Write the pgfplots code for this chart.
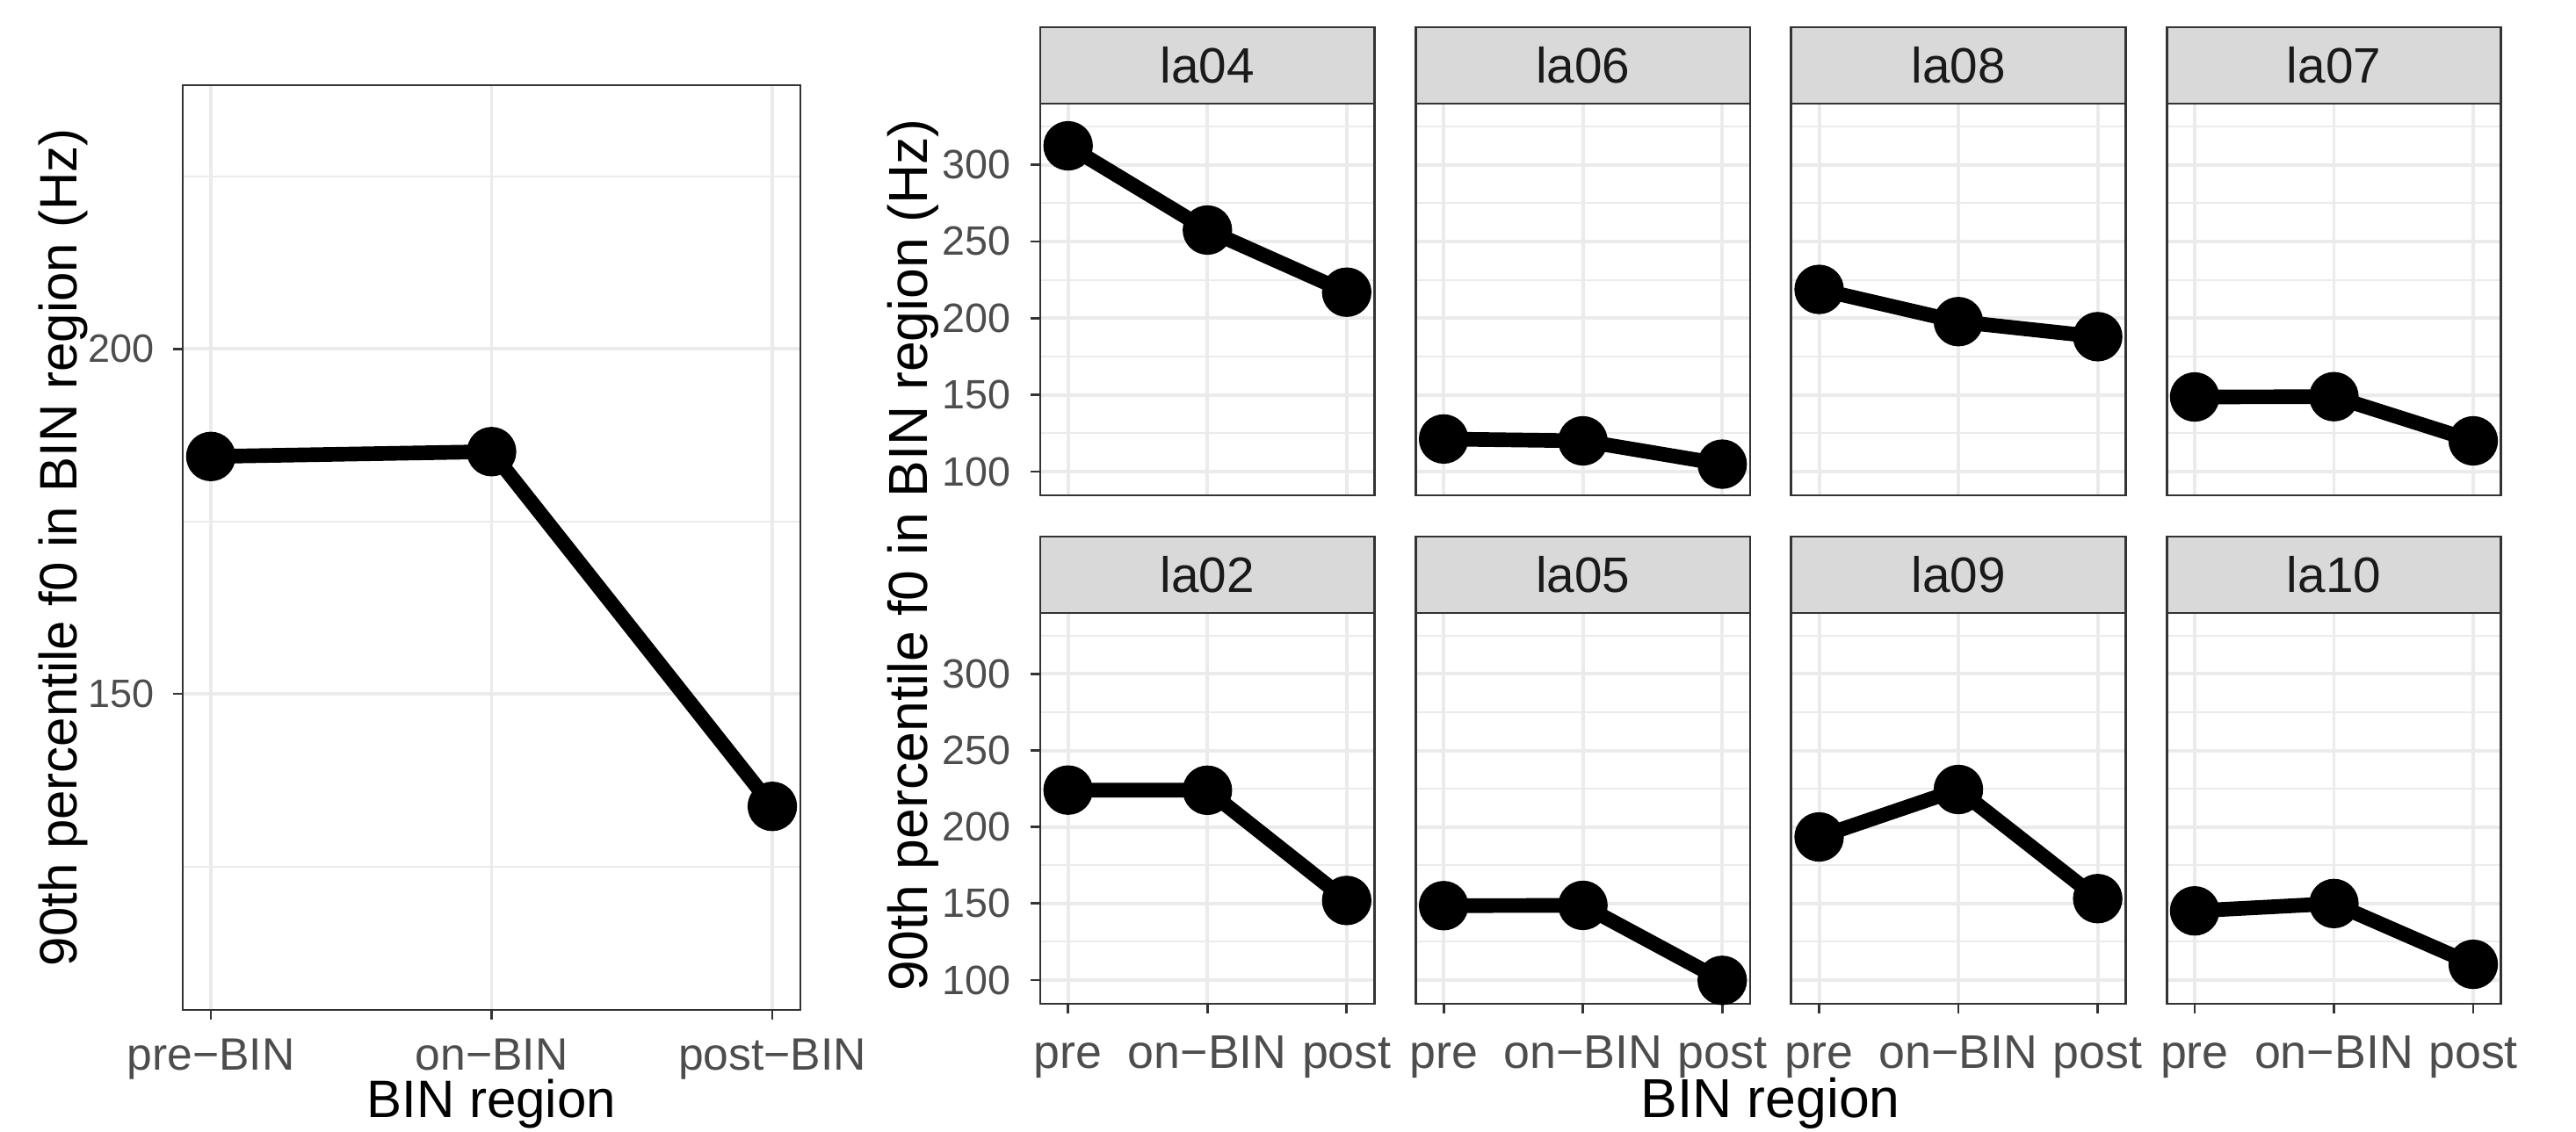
\documentclass[border=0pt]{standalone}
\usepackage{fontspec}
\setmainfont{Liberation Sans}
\usepackage{pgfplots}
\pgfplotsset{compat=1.18}

\definecolor{gridgray}{HTML}{EBEBEB}
\definecolor{framegray}{HTML}{333333}
\definecolor{tickgray}{HTML}{4D4D4D}
\definecolor{stripgray}{HTML}{D9D9D9}
\definecolor{striptext}{HTML}{1A1A1A}

% 1 px of the 2932x1288 reference = 0.24pt
\pgfplotsset{
  ggbase/.style={
    scale only axis, clip=false,
    anchor=south west,
    axis line style={framegray, line width=0.65pt},
    tick align=outside, tick pos=left,
    major tick length=2.64pt, minor tick length=0pt,
    every tick/.append style={framegray, line width=0.65pt},
    grid=both,
    major grid style={gridgray, line width=0.95pt},
    minor grid style={gridgray, line width=0.5pt},
    xtick={1,2,3},
    /pgf/number format/assume math mode=true,
    ticklabel style={text=tickgray},
    yticklabel style={anchor=east, inner sep=0pt},
    xticklabel style={anchor=base, inner sep=0pt},
  },
  ggline/.style={black, line width=4pt, mark=*, mark size=4.75pt,
    mark options={draw=none, fill=black}},
  facet/.style={
    ggbase,
    width=91.32pt,
    xmin=0.8, xmax=3.2, ymin=84.5, ymax=339.8,
    ytick={100,150,...,300}, minor ytick={125,175,...,325},
    xticklabels={pre,on−BIN,post},
    xticklabel style={font=\fontsize{12.9}{15}\selectfont, yshift=-14.9pt},
    yticklabel style={font=\fontsize{11.2}{13}\selectfont, xshift=-5.2pt},
  },
  toprow/.style={facet, height=107.04pt, xmajorticks=false, xticklabels={}},
  botrow/.style={facet, height=106.8pt},
  noy/.style={ymajorticks=false, yticklabels={}},
}

\newcommand{\facetstrip}[1]{%
  \draw[fill=stripgray, draw=framegray, line width=0.65pt]
    (rel axis cs:0,1) rectangle ([yshift=20.88pt]rel axis cs:1,1);
  \node[font=\fontsize{13.6}{16}\selectfont, text=striptext]
    at ([yshift=10.44pt]rel axis cs:0.5,1) {#1};
}

\begin{document}
\begin{tikzpicture}
\path[use as bounding box] (0pt,0pt) rectangle (703.68pt,309.12pt);

% pooled panel
\begin{axis}[ggbase,
  at={(49.92pt,33.12pt)}, width=168.72pt, height=252.72pt,
  xmin=0.9, xmax=3.1, ymin=104.2, ymax=238.2,
  ytick={150,200}, minor ytick={125,175,225},
  xticklabels={pre−BIN,on−BIN,post−BIN},
  xticklabel style={font=\fontsize{12.4}{14}\selectfont, yshift=-13.9pt},
  yticklabel style={font=\fontsize{10.8}{13}\selectfont, xshift=-5pt}]
\addplot[ggline] coordinates {(1,184.4) (2,185.1) (3,133.7)};
\end{axis}

% top row of speakers
\begin{axis}[toprow, at={(284.16pt,173.76pt)}]
\addplot[ggline] coordinates {(1,312.3) (2,257.4) (3,216.9)};
\facetstrip{la04}
\end{axis}
\begin{axis}[toprow, noy, at={(386.74pt,173.76pt)}]
\addplot[ggline] coordinates {(1,121.2) (2,120.0) (3,104.8)};
\facetstrip{la06}
\end{axis}
\begin{axis}[toprow, noy, at={(489.31pt,173.76pt)}]
\addplot[ggline] coordinates {(1,218.7) (2,197.7) (3,187.9)};
\facetstrip{la08}
\end{axis}
\begin{axis}[toprow, noy, at={(591.89pt,173.76pt)}]
\addplot[ggline] coordinates {(1,148.6) (2,148.8) (3,120.0)};
\facetstrip{la07}
\end{axis}

% bottom row of speakers
\begin{axis}[botrow, at={(284.16pt,34.8pt)}]
\addplot[ggline] coordinates {(1,224.1) (2,224.0) (3,152.0)};
\facetstrip{la02}
\end{axis}
\begin{axis}[botrow, noy, at={(386.74pt,34.8pt)}]
\addplot[ggline] coordinates {(1,148.6) (2,148.8) (3,99.8)};
\facetstrip{la05}
\end{axis}
\begin{axis}[botrow, noy, at={(489.31pt,34.8pt)}]
\addplot[ggline] coordinates {(1,193.5) (2,224.5) (3,153.2)};
\facetstrip{la09}
\end{axis}
\begin{axis}[botrow, noy, at={(591.89pt,34.8pt)}]
\addplot[ggline] coordinates {(1,145.2) (2,150.0) (3,110.3)};
\facetstrip{la10}
\end{axis}

% axis titles
\node[rotate=90, anchor=base, font=\fontsize{14.4}{17}\selectfont]
  at (21.12pt,159.5pt) {90th percentile f0 in BIN region (Hz)};
\node[anchor=base, font=\fontsize{14.4}{17}\selectfont]
  at (134.2pt,3.84pt) {BIN region};
\node[rotate=90, anchor=base, font=\fontsize{15}{18}\selectfont]
  at (253.4pt,157.4pt) {90th percentile f0 in BIN region (Hz)};
\node[anchor=base, font=\fontsize{15}{18}\selectfont]
  at (483.6pt,3.84pt) {BIN region};
\end{tikzpicture}
\end{document}
